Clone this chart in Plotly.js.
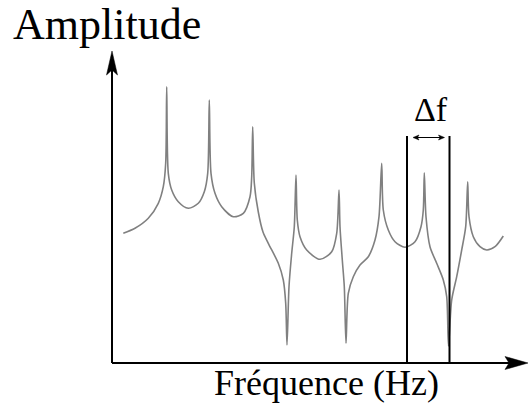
<!DOCTYPE html>
<html>
<head>
<meta charset="utf-8">
<script src="https://cdn.plot.ly/plotly-3.0.1.min.js"></script>
<style>
  html, body { margin: 0; padding: 0; background: #fff; }
  #chart { width: 529px; height: 403px; }
</style>
</head>
<body>
<div id="chart"></div>
<script>
// Frequency response curve (arbitrary units)
const freq = [11.3, 23, 36.3, 46.3, 51.3, 53.7, 54.7, 56.3, 59.7, 66.3, 76.3, 86.3, 92.3, 95.7, 97.3, 99, 103, 109.7, 121.3, 131.3, 138, 139.7, 140.7, 142.3, 146.3, 151, 156.3, 166.3, 171.3, 173.7, 175, 177, 179.7, 182.3, 184, 185.3, 188, 194.7, 208, 219.7, 224.7, 227, 228, 230.3, 232.3, 234, 236.3, 241.3, 248, 256.3, 263, 267, 269.7, 271.3, 276.3, 283, 293, 303, 309, 311.3, 312.3, 314, 318, 324.7, 331.3, 334.7, 336.5, 339.7, 344.7, 349.7, 353.7, 355.7, 357, 361.3, 368, 374.7, 383, 391.3];
const amp = [129.7, 134.7, 144.7, 159.7, 176.3, 200, 276.3, 189.7, 173, 161.3, 154.7, 159.7, 171.3, 189.7, 263, 189.7, 169.7, 156.3, 146.3, 149.7, 166.3, 186.3, 236.3, 180, 151, 131, 119.7, 99.7, 83, 59.7, 18, 76.3, 109.7, 136.3, 188, 143, 126.3, 113, 103.7, 111.3, 129.7, 173, 136.3, 103, 76.3, 19.7, 69.7, 86.3, 98, 106.3, 123, 146.3, 199.7, 153, 133, 121.3, 115.7, 121.3, 136.3, 153, 190.3, 146.3, 116.3, 99.7, 83, 66.3, 17, 63, 86.3, 113, 136.3, 181.3, 146.3, 126.3, 116.3, 113, 116.3, 127];

// Delta f marker frequencies and labels
const deltaFreqs = [295, 337.5];
const labelY = "Amplitude";
const labelX = "Fréquence (Hz)";
const labelDelta = "Δf";

const serif = "Liberation Serif";

const trace = {
  x: freq, y: amp, type: "scatter", mode: "lines",
  line: { color: "#808080", width: 1.6, shape: "spline", smoothing: 0.8 },
  hoverinfo: "skip"
};

const shapes = [
  // y axis
  { type: "line", x0: 0, x1: 0, y0: 0, y1: 296, line: { color: "#000", width: 2 } },
  { type: "path", path: "M 0 312 L 5.5 288 L 0 293 L -5.5 288 Z", fillcolor: "#000", line: { color: "#000", width: 0.5 } },
  // x axis
  { type: "line", x0: 0, x1: 400, y0: 0, y1: 0, line: { color: "#000", width: 2 } },
  { type: "path", path: "M 416 0 L 393 6.5 L 397 0 L 393 -6.5 Z", fillcolor: "#000", line: { color: "#000", width: 0.5 } },
  // delta f vertical lines
  { type: "line", x0: deltaFreqs[0], x1: deltaFreqs[0], y0: 0, y1: 227, line: { color: "#000", width: 2 } },
  { type: "line", x0: deltaFreqs[1], x1: deltaFreqs[1], y0: 0, y1: 227, line: { color: "#000", width: 2 } },
  // double arrow
  { type: "line", x0: deltaFreqs[0] + 7, x1: deltaFreqs[1] - 6, y0: 225.5, y1: 225.5, line: { color: "#000", width: 1 } },
  { type: "path", path: "M " + (deltaFreqs[0] + 6) + " 225.5 L " + (deltaFreqs[0] + 12) + " 228 L " + (deltaFreqs[0] + 10.5) + " 225.5 L " + (deltaFreqs[0] + 12) + " 223 Z", fillcolor: "#000", line: { color: "#000", width: 0.5 } },
  { type: "path", path: "M " + (deltaFreqs[1] - 5) + " 225.5 L " + (deltaFreqs[1] - 11) + " 228 L " + (deltaFreqs[1] - 9.5) + " 225.5 L " + (deltaFreqs[1] - 11) + " 223 Z", fillcolor: "#000", line: { color: "#000", width: 0.5 } }
];

const annotations = [
  { text: labelY, x: -5, y: 338.5, xref: "x", yref: "y", showarrow: false, xanchor: "center", yanchor: "middle",
    font: { family: serif, size: 44, color: "#000" } },
  { text: labelX, x: 214, y: -20, xref: "x", yref: "y", showarrow: false, xanchor: "center", yanchor: "middle",
    font: { family: serif, size: 36, color: "#000" } },
  { text: labelDelta, x: 319, y: 253.5, xref: "x", yref: "y", showarrow: false, xanchor: "center", yanchor: "middle",
    font: { family: serif, size: 34, color: "#000" } }
];

const layout = {
  width: 529, height: 403,
  font: { family: serif },
  margin: { l: 0, r: 0, t: 0, b: 0, pad: 0 },
  paper_bgcolor: "#fff", plot_bgcolor: "#fff",
  showlegend: false,
  xaxis: { range: [-112, 417], visible: false, fixedrange: true },
  yaxis: { range: [-40, 363], visible: false, fixedrange: true },
  shapes: shapes,
  annotations: annotations
};

Plotly.newPlot("chart", [trace], layout, { displayModeBar: false, staticPlot: true });
</script>
</body>
</html>
